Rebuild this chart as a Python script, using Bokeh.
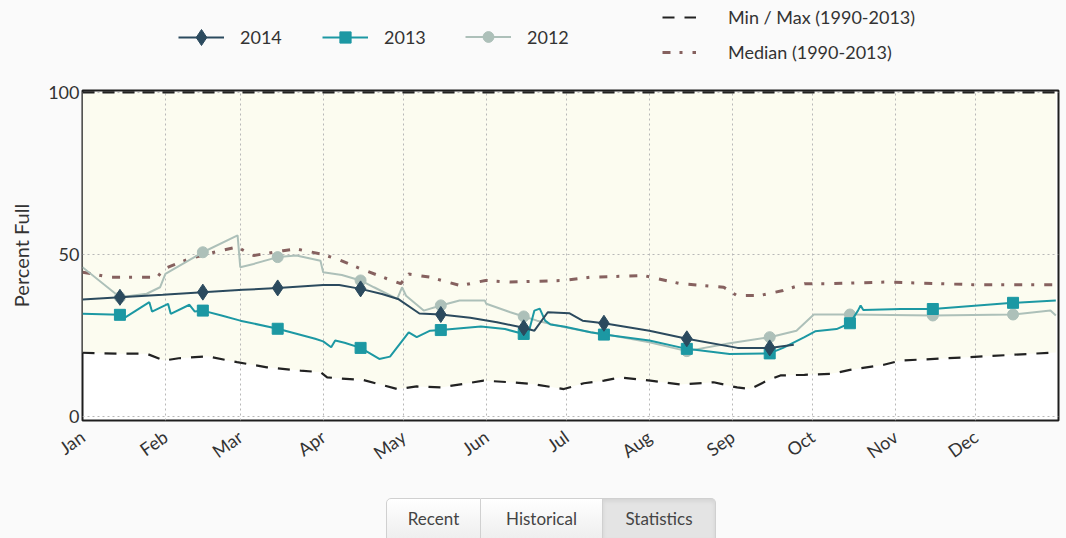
import numpy as np
from bokeh.plotting import figure
from bokeh.models import Range1d, FixedTicker, Legend, LegendItem, Div
from bokeh.layouts import column
from bokeh.embed import file_html
from bokeh.resources import INLINE

# ---------------- data (day of year, percent full) ----------------
months = ["Jan", "Feb", "Mar", "Apr", "May", "Jun", "Jul", "Aug", "Sep", "Oct", "Nov", "Dec"]
month_start_days = [0, 31, 59, 90, 120, 151, 181, 212, 243, 273, 304, 334]
marker_days = [14, 45, 73, 104, 134, 165, 195, 226, 257, 287, 318, 348]

days_2014 = [0, 14, 30, 45, 60, 73, 90, 96, 104, 112, 118, 126, 134, 145, 155, 165, 169, 174, 182, 187,
             195, 212, 226, 245, 257, 266]
vals_2014 = [36.1, 36.8, 37.6, 38.4, 39.1, 39.7, 40.6, 40.6, 39.4, 37.8, 36.3, 31.8, 31.5, 30.5, 29.1, 27.4,
             26.5, 32.2, 31.9, 29.6, 28.8, 26.5, 24.0, 21.2, 21.2, 22.2]

days_2013 = [0, 14, 16, 25, 26, 32, 33, 40, 42, 45, 52, 59, 73, 87, 90, 93, 94.5, 98, 104, 111, 115, 122,
             125, 130, 134, 149, 158, 165, 167, 169, 171, 173, 175, 180, 190, 195, 212, 226, 242, 257, 262,
             270, 274, 282, 287, 290, 291, 292, 306, 318, 348, 364]
vals_2013 = [31.7, 31.4, 30.6, 35.3, 32.4, 34.8, 31.7, 34.5, 32.4, 32.7, 31.2, 29.6, 27.1, 24.0, 23.2, 21.4,
             23.5, 22.8, 21.2, 17.8, 18.5, 26.0, 24.5, 26.5, 26.7, 27.8, 27.0, 25.5, 26.5, 32.7, 33.3, 29.6,
             28.4, 27.8, 26.0, 25.3, 23.5, 20.9, 19.3, 19.5, 21.2, 24.5, 26.3, 27.0, 28.8, 32.7, 34.3, 32.9,
             33.2, 33.2, 35.1, 35.8]

days_2012 = [0, 14, 24, 29, 31, 45, 58, 59, 64, 73, 80, 89, 90, 97, 104, 109, 117.7, 119.5, 121, 127.6,
             134, 141, 150.5, 151, 160, 165, 170, 180, 190, 195, 212, 226, 242, 257, 267, 273.5, 280, 287,
             318, 348, 362, 364]
vals_2012 = [46.1, 36.8, 37.9, 39.9, 44.0, 50.7, 55.9, 46.1, 47.1, 49.2, 49.7, 48.1, 44.5, 43.7, 42.0, 39.9,
             36.3, 39.9, 37.3, 32.7, 34.3, 35.8, 35.8, 34.8, 32.2, 30.9, 29.6, 27.6, 26.0, 25.5, 22.9, 20.2,
             22.6, 24.5, 26.5, 31.5, 31.5, 31.5, 31.2, 31.5, 32.7, 31.2]

days_median = [0, 4, 10, 28, 30.4, 40, 51.6, 57.8, 64, 75, 80, 89, 95, 104, 114, 119, 122, 130, 141.4,
               150.7, 160, 180, 190, 210, 223.6, 239.8, 244.8, 253.5, 262, 270, 280, 300, 333, 364]
vals_median = [44.5, 44.0, 43.0, 43.0, 45.6, 48.7, 51.2, 52.3, 49.7, 51.2, 51.7, 50.2, 48.7, 45.6, 42.5,
               41.0, 44.0, 43.0, 40.4, 42.0, 41.5, 42.0, 43.0, 43.5, 41.0, 39.9, 37.3, 37.4, 38.9, 41.0,
               41.0, 41.5, 40.7, 40.7]

days_min = [0, 14, 24, 30.4, 36, 46.6, 57.8, 69, 81.5, 89, 91.5, 96, 105, 117.7, 125, 134, 142.6, 150, 160,
            168.8, 180, 187.5, 195, 201, 212.4, 223.6, 236, 244.8, 249.8, 256, 261, 270, 280, 287, 299.7,
            306, 331, 364]
vals_min = [19.7, 19.4, 19.4, 17.3, 18.0, 18.6, 16.8, 15.2, 14.2, 13.7, 12.1, 11.8, 11.3, 8.5, 9.3, 9.0,
            10.1, 11.1, 10.6, 10.0, 8.5, 10.3, 11.1, 12.1, 11.1, 9.9, 10.6, 9.0, 8.5, 11.1, 12.7, 12.9, 13.2,
            14.4, 16.0, 17.3, 18.3, 19.8]

days_max = [0, 364]
vals_max = [100, 100]

y_ticks = [0, 50, 100]

# ---------------- styling ----------------
FONT = "Lato"
C14, C13, C12 = "#2b4a5e", "#1c98a3", "#adc0b9"
CMED, CMM = "#86615f", "#222222"
BG = "#fafafa"

STY14 = dict(line_color=C14, line_width=2)
STY13 = dict(line_color=C13, line_width=2)
STY12 = dict(line_color=C12, line_width=2)
STYMAX = dict(line_color=CMM, line_width=2.2, line_dash="12 8")
STYMIN = dict(line_color=CMM, line_width=2.2, line_dash="12 10")
STYMED = dict(line_color=CMED, line_width=3, line_dash="8 9 3 10")
MK14 = dict(marker="diamond", size=16, fill_color=C14, line_color=C14)
MK13 = dict(marker="square", size=11, fill_color=C13, line_color=C13)
MK12 = dict(marker="circle", size=11, fill_color=C12, line_color=C12)


def markers_for(days, vals):
    d = [m for m in marker_days if days[0] <= m <= days[-1]]
    return d, list(np.interp(d, days, vals))


FRAME_LEFT = 82
LEG_H = 82

# ---------------- main chart ----------------
p = figure(width=1060, height=396, output_backend="svg", toolbar_location=None,
           x_range=Range1d(0, 365), y_range=Range1d(-1.2, 100.6),
           min_border_left=FRAME_LEFT, min_border_top=8, min_border_bottom=58, min_border_right=2,
           background_fill_color="white", border_fill_color=BG)

p.varea(x=days_min, y1=vals_min, y2=list(np.interp(days_min, days_max, vals_max)),
        fill_color="#fcfcf0", level="image")

p.line(days_max, vals_max, **STYMAX)
p.line(days_min, vals_min, **STYMIN)
p.line(days_median, vals_median, **STYMED)

p.line(days_2012, vals_2012, **STY12)
p.scatter(*markers_for(days_2012, vals_2012), **MK12)
p.line(days_2013, vals_2013, **STY13)
p.scatter(*markers_for(days_2013, vals_2013), **MK13)
p.line(days_2014, vals_2014, **STY14)
p.scatter(*markers_for(days_2014, vals_2014), **MK14)

p.outline_line_color = "#1e1e1e"
p.outline_line_width = 2

p.xaxis.ticker = FixedTicker(ticks=month_start_days)
p.xaxis.major_label_overrides = {d: m for d, m in zip(month_start_days, months)}
p.xaxis.major_label_orientation = 0.62
p.yaxis.ticker = FixedTicker(ticks=y_ticks)
p.yaxis.axis_label = "Percent Full"

for ax in (p.xaxis[0], p.yaxis[0]):
    ax.axis_line_color = None
    ax.major_tick_line_color = None
    ax.minor_tick_line_color = None
    ax.major_tick_out = 0
    ax.major_tick_in = 0
    ax.minor_tick_out = 0
    ax.major_label_text_font = FONT
    ax.major_label_text_color = "#333333"
p.xaxis.major_label_text_font_size = "18px"
p.yaxis.major_label_text_font_size = "18px"
p.yaxis.major_label_standoff = 3
p.xaxis.major_label_standoff = 14
p.yaxis.axis_label_text_font = FONT
p.yaxis.axis_label_text_font_size = "20px"
p.yaxis.axis_label_text_font_style = "normal"
p.yaxis.axis_label_text_color = "#333333"
p.yaxis.axis_label_standoff = 12

p.xgrid.ticker = FixedTicker(ticks=month_start_days)
p.ygrid.ticker = FixedTicker(ticks=y_ticks)
for g in (p.xgrid[0], p.ygrid[0]):
    g.grid_line_color = "#b8b8b8"
    g.grid_line_dash = "2 3"
    g.grid_line_width = 1

# ---------------- legend strip (same series, drawn out of view; only the legends show) ----------------
lg = figure(width=1060, height=LEG_H, output_backend="svg", toolbar_location=None,
            x_range=Range1d(0, 365), y_range=Range1d(1000, 1001),
            x_axis_location=None, y_axis_location=None,
            min_border_left=FRAME_LEFT, min_border_right=2, min_border_top=0, min_border_bottom=0,
            background_fill_color=BG, border_fill_color=BG, outline_line_color=None)
lg.grid.visible = False
s14 = [lg.line(days_2014, vals_2014, **STY14), lg.scatter(*markers_for(days_2014, vals_2014), **MK14)]
s13 = [lg.line(days_2013, vals_2013, **STY13), lg.scatter(*markers_for(days_2013, vals_2013), **MK13)]
s12 = [lg.line(days_2012, vals_2012, **STY12), lg.scatter(*markers_for(days_2012, vals_2012), **MK12)]
smm = [lg.line(days_min, vals_min, **STYMIN)]
smed = [lg.line(days_median, vals_median, **STYMED)]

common = dict(padding=0, margin=0, background_fill_alpha=0, border_line_alpha=0,
              label_text_font=FONT, label_text_font_size="18px", label_text_color="#333333")
# year legend: one legend per year so each marker sample keeps its own size
year_items = [("2014", s14, 178, 40), ("2013", s13, 322, 28), ("2012", s12, 465, 27)]
for label, rends, x0, gh in year_items:
    lg.add_layout(Legend(items=[LegendItem(label=label, renderers=rends)],
                         orientation="horizontal", location=(x0 - FRAME_LEFT, LEG_H - 37 - gh // 2),
                         glyph_width=46, glyph_height=gh, label_standoff=16, **common))
leg2 = Legend(items=[LegendItem(label="Min / Max (1990-2013)", renderers=smm),
                     LegendItem(label="Median (1990-2013)", renderers=smed)],
              orientation="vertical", location=(662 - FRAME_LEFT, LEG_H - 63),
              glyph_width=34, glyph_height=20, label_standoff=32, spacing=13, **common)
lg.add_layout(leg2)

# ---------------- bottom buttons ----------------
base = ("display:inline-block;box-sizing:border-box;height:42px;line-height:40px;text-align:center;"
        "vertical-align:top;border:1px solid #d0d0d0;font-family:Lato;font-size:17px;color:#444;"
        "background:linear-gradient(#ffffff,#eeeeee);")
buttons = [("Recent", 95, "border-top-left-radius:5px;"),
           ("Historical", 122, "border-left:none;"),
           ("Statistics", 113, "border-left:none;border-top-right-radius:5px;background:#e4e4e4;"
                              "box-shadow:inset 0 2px 4px rgba(0,0,0,0.08);")]
html = "".join(f'<span style="{base}width:{w}px;{extra}">{t}</span>' for t, w, extra in buttons)
div = Div(text=(f'<div style="font-size:0;margin-left:381px;margin-top:15px;height:40px;'
                f'overflow:hidden;white-space:nowrap">{html}</div>'),
          width=1060, height=60, styles={"background": BG})

layout = column(lg, p, div, spacing=0)
out = file_html(layout, INLINE)
out = out.replace("<head>", "<head><style>body{background:#fafafa;}</style>", 1)
open("out.html", "w").write(out)
